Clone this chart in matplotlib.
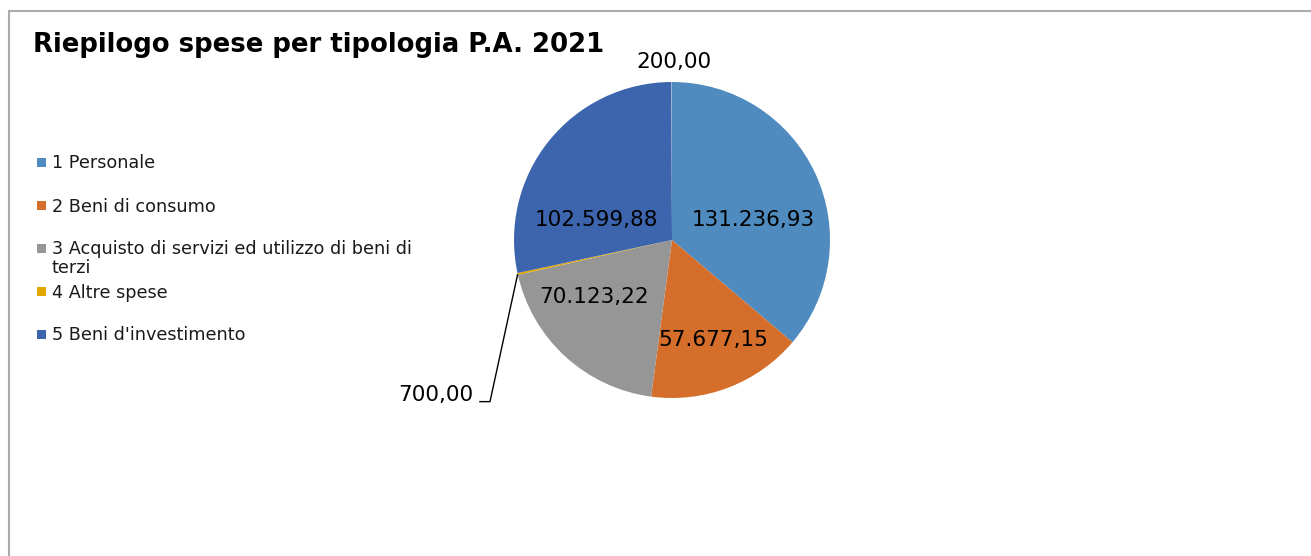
import textwrap
import matplotlib
matplotlib.use("Agg")
import matplotlib.pyplot as plt
from matplotlib.patches import Rectangle
import numpy as np

# ---- data ----
categories = ["1 Personale", "2 Beni di consumo",
              "3 Acquisto di servizi ed utilizzo di beni di terzi",
              "4 Altre spese", "5 Beni d'investimento", ""]
values = [131236.93, 57677.15, 70123.22, 700.00, 102599.88, 200.00]
colors = ["#4F8BBF", "#D46E2A", "#969696", "#E2A800", "#3D65AE", "#9DB7D3"]
title = "Riepilogo spese per tipologia P.A. 2021"

# ---- layout ----
W, H = 1311, 556
# label placement per slice: (radius, angle offset from mid angle) or None for outside
LABEL_POS = [(0.531, -11.0), (0.685, 1.5), (0.612, -11.4), None, (0.495, 24.0), (1.127, -0.8)]


def fmt_it(v):
    s = f"{v:,.2f}"
    return s.replace(",", "X").replace(".", ",").replace("X", ".")


fig = plt.figure(figsize=(W / 100, H / 100), dpi=100)
fig.patch.set_facecolor("white")

# outer frame
fig.add_artist(Rectangle((9 / W, -0.1), 1.2, 1 - 11 / H + 0.1, transform=fig.transFigure,
                         fill=False, edgecolor="#ABABAB", linewidth=1.5))

# title
fig.text(33 / W, 1 - 52 / H, title, fontsize=18.7, fontweight="bold",
         va="baseline", ha="left", color="black")

# pie
cx, cy, R = 672, 240, 158
ax = fig.add_axes([(cx - R) / W, (H - cy - R) / H, 2 * R / W, 2 * R / H])
wedges, _ = ax.pie(values, colors=colors, startangle=90, counterclock=False,
                   radius=1.0, wedgeprops=dict(linewidth=0))
ax.set_xlim(-1, 1)
ax.set_ylim(-1, 1)
ax.set_aspect("equal")
ax.axis("off")

for i, w in enumerate(wedges):
    mid = np.deg2rad((w.theta1 + w.theta2) / 2)
    txt = fmt_it(values[i])
    pos = LABEL_POS[i]
    if pos is not None:
        r, dth = pos
        a = mid + np.deg2rad(dth)
        ax.text(r * np.cos(a), r * np.sin(a), txt, ha="center", va="center",
                fontsize=15.5, color="black", clip_on=False)
    else:
        # outside label with leader line
        ex, ey = np.cos(mid), np.sin(mid)
        kx, ky = -1.152, -1.023
        lx = -1.22
        ax.plot([ex, kx, lx], [ey, ky, ky], color="black", linewidth=1.0,
                clip_on=False, solid_capstyle="butt")
        ax.text(lx - 0.04, ky + 0.04, txt, ha="right", va="center",
                fontsize=15.5, color="black", clip_on=False)

# legend (manual)
row0, step, line_h = 162.5, 43.0, 18.7
for i, lab in enumerate(categories[:5]):
    yc = row0 + step * i
    fig.add_artist(Rectangle((37 / W, 1 - (yc + 4.5) / H), 9 / W, 9 / H,
                             transform=fig.transFigure, facecolor=colors[i],
                             edgecolor="none"))
    for j, line in enumerate(textwrap.wrap(lab, 44)):
        fig.text(52 / W, 1 - (yc + 6 + j * line_h) / H, line, fontsize=12.7,
                 va="baseline", ha="left", color="#1a1a1a")

fig.savefig("out.png", dpi=100, facecolor="white")
